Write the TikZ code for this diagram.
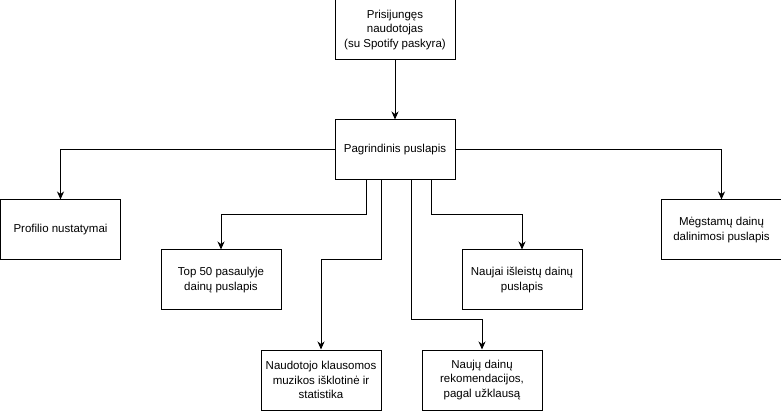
\documentclass[tikz,border=0pt]{standalone}
\usepackage{fontspec}
\setmainfont{Liberation Sans}
\usetikzlibrary{arrows.meta}
\tikzstyle{every node}=[draw=black,line width=1pt,minimum width=120pt,minimum height=60pt,inner sep=0pt,align=center,font=\fontsize{11.5}{14.5}\selectfont]
\tikzstyle{link}=[line width=1pt,-{Stealth[length=8pt,width=7pt,inset=2.5pt]}]

\begin{document}
\begin{tikzpicture}[x=1pt,y=-1pt]
      \useasboundingbox (0,0) rectangle (781,411);
      \node (user) at (395,30) {Prisijungęs\\naudotojas\\(su Spotify paskyra)};
      \node (home) at (395,150) {Pagrindinis puslapis};
      \node (profile) at (60.5,230) {Profilio nustatymai};
      \node (share) at (721.5,230) {Mėgstamų dainų\\dalinimosi puslapis};
      \node (top) at (221,280) {Top 50 pasaulyje\\dainų puslapis};
      \node (fresh) at (522,280) {Naujai išleistų dainų\\puslapis};
      \node (stats) at (321,380) {Naudotojo klausomos\\muzikos išklotinė ir\\statistika};
      \node (recs) at (482,380) {Naujų dainų\\rekomendacijos,\\pagal užklausą};
      \draw[link] (user) -- (home);
      \draw[link] (home.west) -| (profile.north);
      \draw[link] (home.east) -| (share.north);
      \draw[link] ([xshift=-29pt]home.south) |- ([yshift=35pt]top.north) -- (top.north);
      \draw[link] ([xshift=-14pt]home.south) |- ([yshift=90pt]stats.north) -- (stats.north);
      \draw[link] ([xshift=16pt]home.south) |- ([yshift=30pt]recs.north) -- (recs.north);
      \draw[link] ([xshift=36pt]home.south) |- ([yshift=35pt]fresh.north) -- (fresh.north);
\end{tikzpicture}
\end{document}
